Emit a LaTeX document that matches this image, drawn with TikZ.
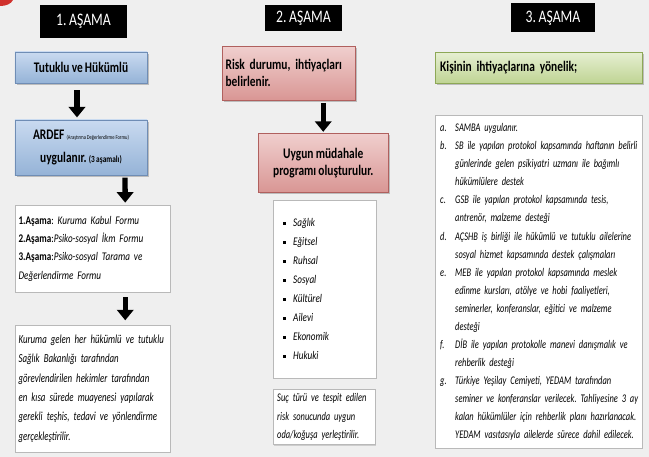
\documentclass[tikz,border=0pt]{standalone}
\usepackage{fontspec}
\setmainfont{Carlito}[FakeStretch=0.78, WordSpace=0.85]
\newfontfamily\govde{Carlito}[FakeStretch=0.72, WordSpace=0.8]
\usetikzlibrary{arrows.meta,positioning,shadows}

\definecolor{arkaplan}{HTML}{EFEFEF}
\definecolor{kirmizi}{HTML}{D0312D}
\definecolor{maviust}{HTML}{C9DAF0}
\definecolor{mavialt}{HTML}{95B3D7}
\definecolor{mavicizgi}{HTML}{6F8DB5}
\definecolor{pembeust}{HTML}{F0CFCE}
\definecolor{pembealt}{HTML}{D99694}
\definecolor{pembecizgi}{HTML}{B0605E}
\definecolor{yesilust}{HTML}{E6EFD2}
\definecolor{yesilalt}{HTML}{BFD494}
\definecolor{yesilcizgi}{HTML}{8DA856}

\tikzset{
  baslik/.style={fill=black, text=white, inner sep=0pt, font=\fontsize{15}{18}\selectfont},
  golge/.style={drop shadow={shadow xshift=1.5pt, shadow yshift=-1.5pt, opacity=0.45, fill=gray}},
  renkli/.style={golge, inner sep=0pt, font=\bfseries\fontsize{12.5}{14.5}\selectfont},
  mavikutu/.style={renkli, draw=mavicizgi, top color=maviust, bottom color=mavialt},
  pembekutu/.style={renkli, draw=pembecizgi, top color=pembeust, bottom color=pembealt},
  yesilkutu/.style={renkli, draw=yesilcizgi, top color=yesilust, bottom color=yesilalt},
  beyazkutu/.style={draw=gray!55, fill=white, anchor=north west, align=left,
    drop shadow={shadow xshift=1pt, shadow yshift=-1pt, opacity=0.3, fill=gray}},
  kalinok/.style={line width=4.5pt, -{Triangle[width=14pt,length=9pt]}}
}
\newcommand{\madde}{\raisebox{1.6pt}{\rule{2.2pt}{2.2pt}}}

\begin{document}
\frenchspacing
\begin{tikzpicture}[x=0.03cm,y=-0.03cm]
\useasboundingbox (0,0) rectangle (649,457);
\fill[arkaplan] (0,0) rectangle (649,457);
\fill[kirmizi] (0,0) -- (13,0) .. controls (11,4) and (6,6) .. (0,6) -- cycle;

% Başlıklar
\node[baslik, minimum width=2.61cm, minimum height=0.99cm] (asama1) at (83.5,21.5) {1. AŞAMA};
\node[baslik, minimum width=2.31cm, minimum height=0.78cm] (asama2) at (303.5,18.5) {2. AŞAMA};
\node[baslik, minimum width=2.52cm, minimum height=0.87cm] (asama3) at (553,18) {3. AŞAMA};

% 1. aşama
\node[mavikutu, minimum width=3.96cm, minimum height=0.93cm] (tutuklu) at (81,67.5) {Tutuklu ve Hükümlü};
\node[mavikutu, minimum width=3.96cm, minimum height=1.65cm, align=center, font=\bfseries\fontsize{12.5}{19}\selectfont] (ardef) at (81,147.5)
  {ARDEF {\fontsize{5}{6}\selectfont\mdseries (Araştırma Değerlendirme Formu)}\\
   uygulanır. {\fontsize{8}{9}\selectfont (3 aşamalı)}};
\node[beyazkutu, inner xsep=0.1cm, text width=4.45cm, minimum height=2.61cm, font=\fontsize{10}{15.5}\selectfont] (formlar) at (15,205)
  {\textbf{1.Aşama}: \textit{Kuruma Kabul Formu}\\
   \textbf{2.Aşama}:\textit{Psiko-sosyal İkm Formu}\\
   \textbf{3.Aşama}:\textit{Psiko-sosyal Tarama ve}\\
   \textit{Değerlendirme Formu}};
\node[beyazkutu, inner xsep=0.1cm, text width=4.45cm, minimum height=3.81cm, font=\govde\itshape\fontsize{10.5}{16.5}\selectfont] (sonuc) at (15,325)
  {Kuruma gelen her hükümlü ve tutuklu\\
   Sağlık Bakanlığı tarafından\\
   görevlendirilen hekimler tarafından\\
   en kısa sürede muayenesi yapılarak\\
   gerekli teşhis, tedavi ve yönlendirme\\
   gerçekleştirilir.};

\draw[kalinok, shorten <=6pt, shorten >=2pt] ([xshift=-0.12cm]tutuklu.south) -- ([xshift=-0.12cm]ardef.north);
\draw[kalinok, shorten <=2pt, shorten >=2pt] ([xshift=1.32cm]ardef.south) -- ([xshift=0.975cm]formlar.north);
\draw[kalinok, shorten <=4pt, shorten >=4pt] ([xshift=0.975cm]formlar.south) -- ([xshift=0.975cm]sonuc.north);

% 2. aşama
\node[pembekutu, anchor=north west, minimum width=3.99cm, minimum height=1.62cm, inner xsep=0.1cm, text width=3.79cm, align=left] (risk) at (222,46)
  {Risk durumu, ihtiyaçları\\ belirlenir.};
\node[pembekutu, anchor=north west, minimum width=3.9cm, minimum height=1.77cm, align=center] (uygun) at (258,133)
  {Uygun müdahale\\ programı oluşturulur.};
\node[beyazkutu, inner xsep=0.3cm, text width=2.49cm, minimum height=5.34cm, font=\itshape\fontsize{10}{16.2}\selectfont] (alanlar) at (273,200)
  {\begin{tabular}{@{}p{0.3cm}@{}l@{}}
   \madde & Sağlık\\
   \madde & Eğitsel\\
   \madde & Ruhsal\\
   \madde & Sosyal\\
   \madde & Kültürel\\
   \madde & Ailevi\\
   \madde & Ekonomik\\
   \madde & Hukuki
   \end{tabular}\\[6pt]};
\node[beyazkutu, inner xsep=0.12cm, text width=2.82cm, minimum height=1.65cm, font=\govde\itshape\fontsize{10}{16}\selectfont] (oda) at (273,389)
  {Suç türü ve tespit edilen\\
   risk sonucunda uygun\\
   oda/koğuşa yerleştirilir.};

\draw[kalinok, shorten <=2pt, shorten >=1pt] (risk.south -| uygun.north) -- (uygun.north);

% 3. aşama
\node[yesilkutu, anchor=north west, minimum width=6.21cm, minimum height=0.93cm, inner xsep=0.15cm, text width=5.91cm, align=left] (kisi) at (435,52)
  {Kişinin ihtiyaçlarına yönelik;};
\node[beyazkutu, inner xsep=0.15cm, text width=5.91cm, minimum height=9.96cm, font=\govde\itshape\fontsize{10}{15.4}\selectfont] (ihtiyac) at (435,115)
  {\begin{tabular}{@{}p{0.45cm}@{}l@{}}
   a. & SAMBA uygulanır.\\
   b. & SB ile yapılan protokol kapsamında haftanın belirli\\
      & günlerinde gelen psikiyatri uzmanı ile bağımlı\\
      & hükümlülere destek\\
   c. & GSB ile yapılan protokol kapsamında tesis,\\
      & antrenör, malzeme desteği\\
   d. & AÇSHB iş birliği ile hükümlü ve tutuklu ailelerine\\
      & sosyal hizmet kapsamında destek çalışmaları\\
   e. & MEB ile yapılan protokol kapsamında meslek\\
      & edinme kursları, atölye ve hobi faaliyetleri,\\
      & seminerler, konferanslar, eğitici ve malzeme\\
      & desteği\\
   f. & DİB ile yapılan protokolle manevi danışmalık ve\\
      & rehberlik desteği\\
   g. & Türkiye Yeşilay Cemiyeti, YEDAM tarafından\\
      & seminer ve konferanslar verilecek. Tahliyesine 3 ay\\
      & kalan hükümlüler için rehberlik planı hazırlanacak.\\
      & YEDAM vasıtasıyla ailelerde sürece dahil edilecek.
   \end{tabular}};
\end{tikzpicture}
\end{document}
